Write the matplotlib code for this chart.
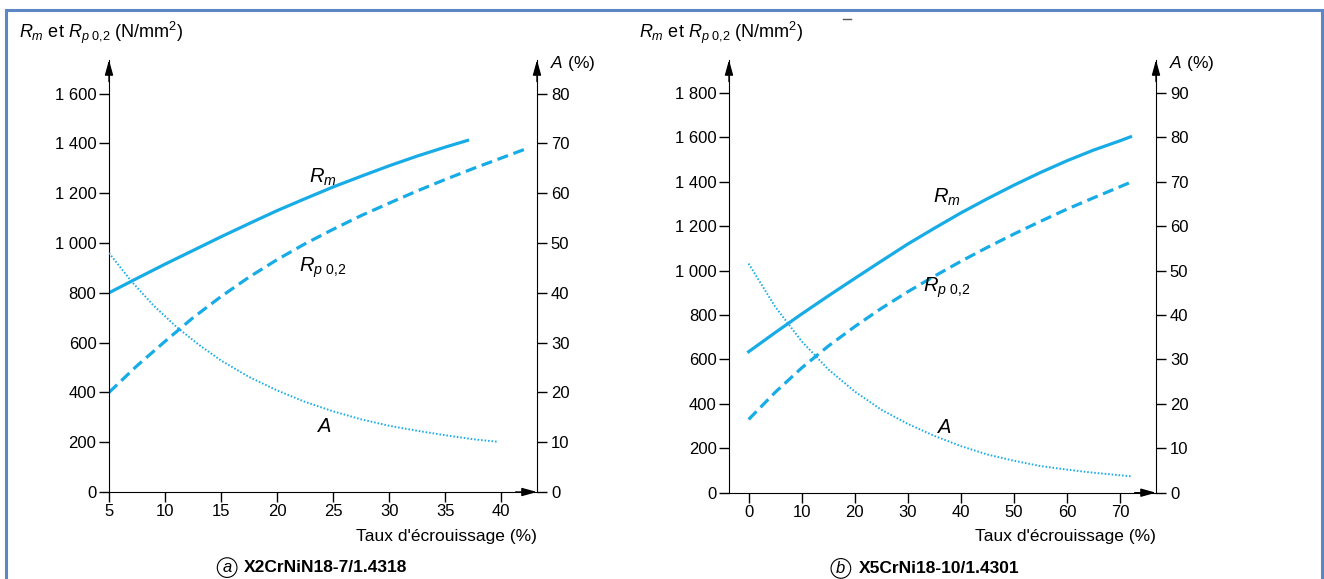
import matplotlib
matplotlib.use('Agg')
import matplotlib.pyplot as plt
from matplotlib.ticker import FuncFormatter
from matplotlib.patches import Rectangle

plt.rcParams['font.family'] = ['Liberation Sans', 'DejaVu Sans']
plt.rcParams['mathtext.fontset'] = 'custom'
plt.rcParams['mathtext.rm'] = 'Liberation Sans'
plt.rcParams['mathtext.it'] = 'Liberation Sans:italic'

# (a) X2CrNiN18-7/1.4318
a_rm_x = [5, 7.5, 10, 12.5, 15, 17.5, 20, 22.5, 25, 27.5, 30, 32.5, 35, 37]
a_rm = [800, 858, 915, 970, 1025, 1078, 1130, 1178, 1225, 1268, 1310, 1349, 1385, 1412]
a_rp_x = [5, 7.5, 10, 12.5, 15, 17.5, 20, 22.5, 25, 27.5, 30, 32.5, 35, 37.5, 40, 42.5]
a_rp = [400, 507, 605, 700, 785, 863, 933, 997, 1055, 1110, 1160, 1209, 1255, 1299, 1341, 1383]
a_A_x = [5, 7, 9, 11, 13, 15, 17.5, 20, 22.5, 25, 27.5, 30, 32.5, 35, 37.5, 39.6]
a_A = [48.0, 42.3, 37.4, 33.2, 29.6, 26.4, 23.1, 20.4, 18.1, 16.2, 14.6, 13.3, 12.3, 11.4, 10.6, 10.1]

# (b) X5CrNi18-10/1.4301
b_rm_x = [0, 5, 10, 15, 20, 25, 30, 35, 40, 45, 50, 55, 60, 65, 70, 72]
b_rm = [635, 721, 805, 886, 965, 1043, 1120, 1191, 1260, 1324, 1385, 1442, 1495, 1543, 1585, 1603]
b_rp_x = [0, 5, 10, 15, 20, 25, 30, 35, 40, 45, 50, 55, 60, 65, 70, 72]
b_rp = [330, 452, 562, 660, 748, 830, 905, 975, 1042, 1105, 1165, 1222, 1277, 1328, 1378, 1398]
b_A_x = [0, 5, 10, 15, 20, 25, 30, 35, 40, 45, 50, 55, 60, 65, 72]
b_A = [51.6, 41.9, 34.1, 27.8, 22.8, 18.7, 15.5, 12.8, 10.5, 8.6, 7.2, 6.0, 5.2, 4.5, 3.7]

color = '#18ace6'
W, H = 1324, 579
RP = r'$R_{p\ \mathrm{0{,}2}}$'


def panel(rect, xlim, ylim, xticks, yticks, aticks, rm, rp, A, labels, letter_x, title_x, letter, title):
    ax = fig.add_axes(rect)
    ax2 = ax.twinx()
    ax.set_xlim(*xlim)
    ax.set_ylim(0, ylim)
    ax2.set_ylim(0, ylim / 20)

    ax.plot(*rm, color=color, lw=2.3)
    ax.plot(*rp, color=color, lw=2.3, dashes=(3.5, 1.8))
    ax2.plot(*A, color=color, lw=1.4, ls=(0, (0.8, 1.0)))

    for a in (ax, ax2):
        a.spines['top'].set_visible(False)
    ax.spines['right'].set_visible(False)
    ax2.spines['left'].set_visible(False)
    ax2.spines['bottom'].set_visible(False)

    ax.set_xticks(xticks)
    ax.set_yticks(yticks)
    ax2.set_yticks(aticks)
    ax.yaxis.set_major_formatter(FuncFormatter(lambda v, p: f'{int(v):,}'.replace(',', ' ')))
    ax.tick_params(axis='both', direction='out', length=7, width=1, labelsize=12, pad=2)
    ax2.tick_params(axis='y', direction='out', length=7, width=1, labelsize=12, pad=3)

    # arrow heads on the axes
    arr = dict(arrowstyle='-|>,head_length=0.9,head_width=0.25', color='black', lw=1, shrinkA=0, shrinkB=0)
    ax.annotate('', xy=(0, 1), xytext=(0, 0.95), xycoords='axes fraction', arrowprops=arr)
    ax.annotate('', xy=(1, 1), xytext=(1, 0.95), xycoords='axes fraction', arrowprops=arr)
    ax.annotate('', xy=(1, 0), xytext=(0.95, 0), xycoords='axes fraction', arrowprops=arr)

    for txt, x, y in labels:
        ax.text(x, y, txt, fontsize=14.5, ha='center', va='center', style='italic')

    # axis titles
    ax.text(-0.21, 1.063, r'$R_m$ et ' + RP + r' (N/mm$^\mathrm{2}$)', transform=ax.transAxes,
            fontsize=13, ha='left', va='center')
    ax.text(1.03, 0.993, r'$A$ (%)', transform=ax.transAxes, fontsize=12.5, ha='left', va='center')
    ax.text(1.0, -0.085, "Taux d'écrouissage (%)", transform=ax.transAxes, fontsize=12.5, ha='right', va='top')

    ax.text(letter_x, -0.175, letter, transform=ax.transAxes, fontsize=12, style='italic',
            ha='center', va='center',
            bbox=dict(boxstyle='circle,pad=0.14', fc='none', ec='black', lw=0.8))
    ax.text(title_x, -0.175, title, transform=ax.transAxes, fontsize=12.5, weight='bold', ha='left', va='center')
    return ax


fig = plt.figure(figsize=(W / 100, H / 100), dpi=100)

panel([109 / W, 1 - 492 / H, 428 / W, 432 / H], (5, 43.2), 1735,
      [5, 10, 15, 20, 25, 30, 35, 40], range(0, 1601, 200), range(0, 81, 10),
      (a_rm_x, a_rm), (a_rp_x, a_rp), (a_A_x, a_A),
      [(r'$R_m$', 24.1, 1265), (RP, 24.1, 900), (r'$A$', 24.2, 262)],
      0.276, 0.315, 'a', 'X2CrNiN18-7/1.4318')

panel([729 / W, 1 - 492.7 / H, 427 / W, 432.7 / H], (-3.7, 76.8), 1949,
      range(0, 71, 10), range(0, 1801, 200), range(0, 91, 10),
      (b_rm_x, b_rm), (b_rp_x, b_rp), (b_A_x, b_A),
      [(r'$R_m$', 37.4, 1330), (RP, 37.4, 925), (r'$A$', 36.7, 295)],
      0.262, 0.305, 'b', 'X5CrNi18-10/1.4301')

# outer frame
fig.patches.append(Rectangle((6 / W, -0.05), (1322 - 6) / W, 1.05 - 10 / H, transform=fig.transFigure,
                             fill=False, ec='#5b87c5', lw=2.2))
fig.add_artist(plt.Line2D([843 / W, 851 / W], [1 - 19 / H, 1 - 19 / H], color='#555555', lw=1))

fig.savefig('out.png', dpi=100)
